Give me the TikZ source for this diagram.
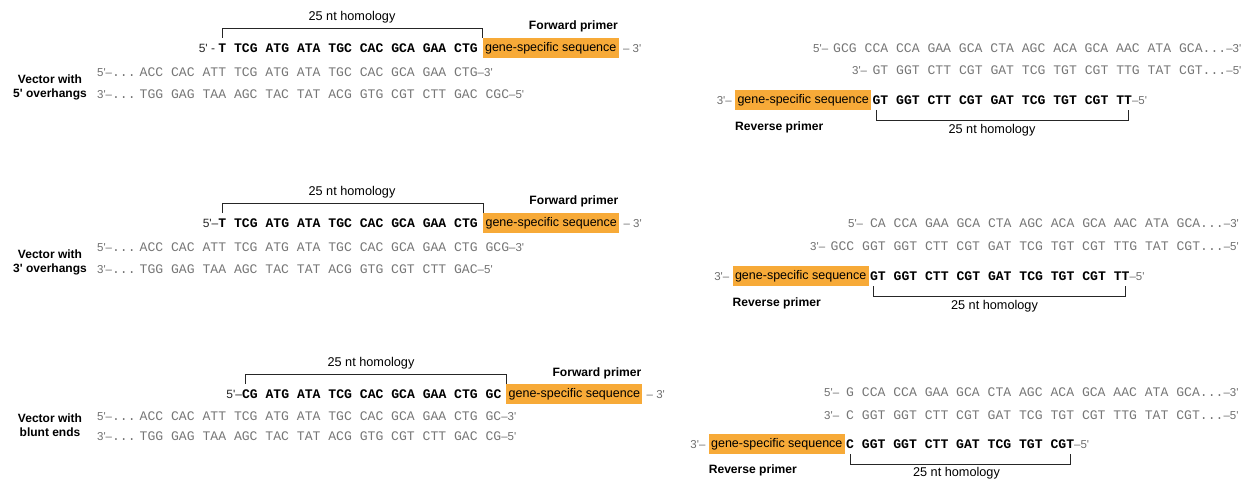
\documentclass[tikz,border=0pt]{standalone}
\usepackage{fontspec}
\setmainfont{Liberation Sans}
\setmonofont{Liberation Mono}
\usetikzlibrary{positioning}
\definecolor{gsorange}{HTML}{F7AA38}
\definecolor{seqgray}{HTML}{767676}
\definecolor{tipgray}{HTML}{6E6E6E}
\newcommand{\five}{5\textquotesingle}
\newcommand{\three}{3\textquotesingle}
\newcommand{\tagf}{\rmfamily\mdseries\fontsize{11.5}{13}\selectfont\color{tipgray}}
\newcommand{\pref}{\rmfamily\mdseries\fontsize{12}{14}\selectfont\color{black!85}}

\begin{document}
\begin{tikzpicture}[x=1pt, y=-1pt,
    seq/.style={anchor=base west, inner sep=0pt, text=seqgray, font=\ttfamily\fontsize{13.1}{15}\selectfont},
    prim/.style={anchor=base west, inner sep=0pt, font=\ttfamily\bfseries\fontsize{13.1}{15}\selectfont},
    gss/.style={fill=gsorange, inner sep=0pt, minimum width=136pt, minimum height=20pt, font=\fontsize{12.5}{14}\selectfont},
    tiplab/.style={inner sep=0pt, text=tipgray, font=\fontsize{11.5}{13}\selectfont},
    hom/.style={inner sep=0pt, font=\fontsize{12.7}{14}\selectfont},
    plab/.style={inner sep=0pt, font=\bfseries\fontsize{12.1}{14}\selectfont},
    vlab/.style={inner sep=0pt, align=center, font=\bfseries\fontsize{12}{14}\selectfont},
    bracket/.style={draw=black!85, line width=0.8pt}]
\useasboundingbox (0,0) rectangle (1256,481);

% 5' overhangs
\node[hom] (t1) at (352,17) {25 nt homology};
\node[prim] at (218.2,52.5) (fw1) {\llap{{\pref\five\ -\ }}T TCG ATG ATA TGC CAC GCA GAA CTG};
\node[gss, right=4.5pt of fw1] (gss1) {gene-specific sequence};
\node[tiplab, right=4pt of gss1] (e1) {–\ \three};
\node[plab, above left=6pt and 1pt of gss1.north east] (fwl1) {Forward primer};
\coordinate (b1) at (222.1,38);
\draw[bracket] (b1) -- ++(0,-10) -| (gss1.north west);
\node[seq] at (139.5,76.5) (v1t) {\llap{{\tagf\five–}...\kern4pt}ACC CAC ATT TCG ATG ATA TGC CAC GCA GAA CTG{\tagf–\three}};
\node[seq] at (139.5,98.8) (v1b) {\llap{{\tagf\three–}...\kern4pt}TGG GAG TAA AGC TAC TAT ACG GTG CGT CTT GAC CGC{\tagf–\five}};
\node[vlab] (lab1) at (50,87) {Vector with\\\five\ overhangs};

% 3' overhangs
\node[hom] (t2) at (352,192) {25 nt homology};
\node[prim] at (218.2,227.5) (fw2) {\llap{{\pref\five–}}T TCG ATG ATA TGC CAC GCA GAA CTG};
\node[gss, right=5pt of fw2] (gss2) {gene-specific sequence};
\node[tiplab, right=4pt of gss2] (e2) {–\ \three};
\node[plab, above left=6pt and 1pt of gss2.north east] (fwl2) {Forward primer};
\coordinate (b2) at (222.1,213);
\draw[bracket] (b2) -- ++(0,-10) -| (gss2.north west);
\node[seq] at (139.5,251.5) (v2t) {\llap{{\tagf\five–}...\kern4pt}ACC CAC ATT TCG ATG ATA TGC CAC GCA GAA CTG GCG{\tagf–\three}};
\node[seq] at (139.5,273.8) (v2b) {\llap{{\tagf\three–}...\kern4pt}TGG GAG TAA AGC TAC TAT ACG GTG CGT CTT GAC{\tagf–\five}};
\node[vlab] (lab2) at (50,262) {Vector with\\\three\ overhangs};

% blunt ends
\node[hom] (t3) at (371,363) {25 nt homology};
\node[prim] at (241.8,398.5) (fw3) {\llap{{\pref\five–}}CG ATG ATA TCG CAC GCA GAA CTG GC};
\node[gss, right=4.5pt of fw3] (gss3) {gene-specific sequence};
\node[tiplab, right=4pt of gss3] (e3) {–\ \three};
\node[plab, above left=5pt and 1pt of gss3.north east] (fwl3) {Forward primer};
\coordinate (b3) at (245.7,384);
\draw[bracket] (b3) -- ++(0,-10) -| (gss3.north west);
\node[seq] at (139.5,420.2) (v3t) {\llap{{\tagf\five–}...\kern4pt}ACC CAC ATT TCG ATG ATA TGC CAC GCA GAA CTG GC{\tagf–\three}};
\node[seq] at (139.5,440.2) (v3b) {\llap{{\tagf\three–}...\kern4pt}TGG GAG TAA AGC TAC TAT ACG GTG CGT CTT GAC CG{\tagf–\five}};
\node[vlab] (lab3) at (50,425.5) {Vector with\\blunt ends};

% reverse primers
\node[seq] at (833,52.5) (r1t) {\llap{{\tagf\five–}\kern5pt}GCG CCA CCA GAA GCA CTA AGC ACA GCA AAC ATA GCA...{\tagf–\three}};
\node[seq] at (872.4,74.5) (r1b) {\llap{{\tagf\three–}\kern5.5pt}GT GGT CTT CGT GAT TCG TGT CGT TTG TAT CGT...{\tagf–\five}};
\node[prim] at (872.4,104.5) (rp1) {GT GGT CTT CGT GAT TCG TGT CGT TT{\tagf–\five}};
\node[gss, left=1pt of rp1] (gsr1) {gene-specific sequence};
\node[tiplab, left=3pt of gsr1] (e4) {\three–};
\node[plab, below right=11pt and 0pt of gsr1.south west] (rvl1) {Reverse primer};
\coordinate (c1) at (876.3,110);
\coordinate (c1e) at (1128.2,110);
\draw[bracket] (c1) -- ++(0,10) -| (c1e);
\node[hom] (t4) at (992,130) {25 nt homology};

\node[seq] at (869.9,227.5) (r2t) {\llap{{\tagf\five–}\kern7pt}CA CCA GAA GCA CTA AGC ACA GCA AAC ATA GCA...{\tagf–\three}};
\node[seq] at (830.5,250.5) (r2b) {\llap{{\tagf\three–}\kern5.5pt}GCC GGT GGT CTT CGT GAT TCG TGT CGT TTG TAT CGT...{\tagf–\five}};
\node[prim] at (869.9,280.5) (rp2) {GT GGT CTT CGT GAT TCG TGT CGT TT{\tagf–\five}};
\node[gss, left=1pt of rp2] (gsr2) {gene-specific sequence};
\node[tiplab, left=3pt of gsr2] (e5) {\three–};
\node[plab, below right=11pt and 0pt of gsr2.south west] (rvl2) {Reverse primer};
\coordinate (c2) at (873.8,286);
\coordinate (c2e) at (1125.7,286);
\draw[bracket] (c2) -- ++(0,10) -| (c2e);
\node[hom] (t5) at (994.5,306.5) {25 nt homology};

\node[seq] at (846,396.5) (r3t) {\llap{{\tagf\five–}\kern7pt}G CCA CCA GAA GCA CTA AGC ACA GCA AAC ATA GCA...{\tagf–\three}};
\node[seq] at (846,419.5) (r3b) {\llap{{\tagf\three–}\kern7pt}C GGT GGT CTT CGT GAT TCG TGT CGT TTG TAT CGT...{\tagf–\five}};
\node[prim] at (846,448.5) (rp3) {C GGT GGT CTT GAT TCG TGT CGT{\tagf–\five}};
\node[gss, left=1pt of rp3] (gsr3) {gene-specific sequence};
\node[tiplab, left=3pt of gsr3] (e6) {\three–};
\node[plab, below right=10pt and 0pt of gsr3.south west] (rvl3) {Reverse primer};
\coordinate (c3) at (849.9,454);
\coordinate (c3e) at (1070.3,454);
\draw[bracket] (c3) -- ++(0,10) -| (c3e);
\node[hom] (t6) at (956.5,473.5) {25 nt homology};
\end{tikzpicture}
\end{document}
